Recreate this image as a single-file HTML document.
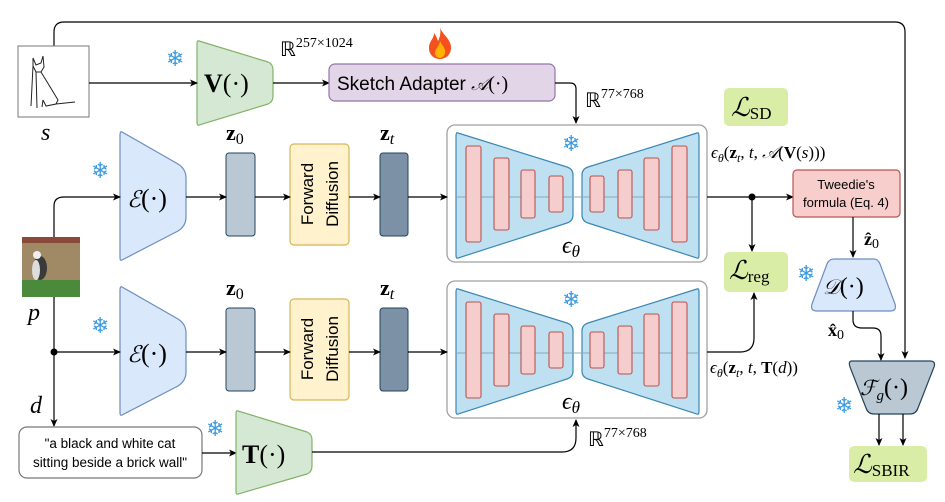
<!DOCTYPE html>
<html><head><meta charset="utf-8"><style>
html,body{margin:0;padding:0;background:#fff;}
svg{display:block;}
.m{font-family:"Liberation Serif",serif;}
.s{font-family:"Liberation Sans",sans-serif;}
</style></head><body>
<svg width="945" height="502" viewBox="0 0 945 502" xmlns="http://www.w3.org/2000/svg">
<defs>
<marker id="a" markerWidth="8" markerHeight="8" refX="7" refY="4" orient="auto" markerUnits="userSpaceOnUse"><path d="M0,0.5 L8,4 L0,7.5 L2,4z" fill="#000"/></marker>
<g id="unet">
<rect x="447" y="0" width="260" height="137" rx="8" fill="#fff" stroke="#a0a0a0" stroke-width="1.3"/>
<path d="M458,8 L567,42 Q573,44 573,50 L573,90 Q573,96 567,98 L458,133 Q456,134 456,130 L456,11 Q456,7 458,8z" fill="#bfe0f1" stroke="#3a88b5" stroke-width="1.2"/>
<path d="M697,8 L588,42 Q582,44 582,50 L582,90 Q582,96 588,98 L697,133 Q699,134 699,130 L699,11 Q699,7 697,8z" fill="#bfe0f1" stroke="#3a88b5" stroke-width="1.2"/>
<line x1="456" y1="72" x2="699" y2="72" stroke="#8aa9b8" stroke-width="1"/>
<g fill="#f5cdcc" stroke="#b85450" stroke-width="1.1">
<rect x="466" y="21" width="15" height="96" rx="2"/>
<rect x="494" y="33" width="15" height="72" rx="2"/>
<rect x="521" y="45" width="14" height="48" rx="2"/>
<rect x="549" y="51" width="14" height="36" rx="2"/>
<rect x="590" y="51" width="14" height="36" rx="2"/>
<rect x="618" y="45" width="14" height="48" rx="2"/>
<rect x="644" y="33" width="15" height="72" rx="2"/>
<rect x="672" y="21" width="15" height="96" rx="2"/>
</g>
<text x="562" y="128" class="m" font-size="24" font-style="italic">ϵ<tspan font-size="17" dy="4">θ</tspan></text>
<text x="562" y="26" font-size="22" fill="#3b9be0" font-family="DejaVu Sans">❄</text>
</g>
<g id="enc">
<path d="M122,0 L178,32 Q186,37 186,46 L186,85 Q186,94 178,99 L122,128 Q120,129 120,126 L120,3 Q120,-1 122,0z" fill="#dae8fc" stroke="#6c8ebf" stroke-width="1.2"/>
<text x="127" y="75" class="m" font-size="26"><tspan font-style="italic" font-family="DejaVu Serif" font-size="23">ℰ</tspan>(·)</text>
<rect x="226" y="21" width="29" height="83" rx="3" fill="#bac8d3" stroke="#23445d" stroke-width="1"/>
<rect x="290" y="12" width="59" height="101" rx="4" fill="#fff2cc" stroke="#d6b656" stroke-width="1.2"/>
<text transform="translate(313,62) rotate(-90)" text-anchor="middle" class="s" font-size="17">Forward</text>
<text transform="translate(338,62) rotate(-90)" text-anchor="middle" class="s" font-size="17">Diffusion</text>
<rect x="380" y="21" width="28" height="83" rx="3" fill="#7d91a6" stroke="#23445d" stroke-width="1"/>
<text x="226" y="8" class="m" font-size="22" font-weight="bold">z<tspan font-weight="normal" font-size="16" dy="4">0</tspan></text>
<text x="380" y="8" class="m" font-size="22" font-weight="bold">z<tspan font-weight="normal" font-style="italic" font-size="16" dy="4">t</tspan></text>
<text x="91" y="46" font-size="22" fill="#3b9be0" font-family="DejaVu Sans">❄</text>
<g stroke="#000" stroke-width="1.2" fill="none" marker-end="url(#a)">
<line x1="186" y1="65" x2="226" y2="65"/>
<line x1="255" y1="65" x2="290" y2="65"/>
<line x1="349" y1="65" x2="380" y2="65"/>
<line x1="408" y1="65" x2="447" y2="65"/>
</g>
</g>
</defs>

<path d="M54,46 L54,32 Q54,22 64,22 L895,22 Q905,22 905,32 L905,358" fill="none" stroke="#000" stroke-width="1.2" marker-end="url(#a)"/>

<rect x="18" y="46" width="71" height="71" fill="#fff" stroke="#777" stroke-width="1"/>
<path d="M33,58 L36,65 L41,63 L43,56 L44,67 L41,72 L36,72 L33,66 Z M33,66 L31,106 M36,72 L37,108 M41,72 L52,90 L58,100 L56,104 L46,106 L43,100 M43,100 L42,107 M56,104 L75,102" fill="none" stroke="#222" stroke-width="1"/>
<text x="41" y="140" class="m" font-size="24" font-style="italic">s</text>

<path d="M199,41 L268,62 Q273,64 273,70 L273,96 Q273,102 268,104 L199,125 Q197,126 197,122 L197,44 Q197,40 199,41z" fill="#d5e8d4" stroke="#82b366" stroke-width="1.2"/>
<text x="204" y="92" class="m" font-size="26"><tspan font-weight="bold">V</tspan>(·)</text>
<text x="166" y="66" font-size="22" fill="#3b9be0" font-family="DejaVu Sans">❄</text>
<line x1="89" y1="83" x2="197" y2="83" stroke="#000" stroke-width="1.2" marker-end="url(#a)"/>
<line x1="273" y1="83" x2="329" y2="83" stroke="#000" stroke-width="1.2" marker-end="url(#a)"/>
<text x="280" y="56" class="m" font-size="20">ℝ<tspan font-size="14" dy="-9">257×1024</tspan></text>

<g transform="translate(428,27)">
<path d="M12,0 C14,8 24,12 23,22 C22,29 17,32 12,32 C6,32 1,28 1,21 C1,14 6,12 6,6 C9,10 9,12 10,14 C12,10 13,6 12,0z" fill="#f4511e"/>
<path d="M12,14 C14,19 18,21 17,26 C16,30 13,31 12,31 C9,31 7,29 7,26 C7,22 11,20 12,14z" fill="#ffb300"/>
</g>

<rect x="329" y="64" width="226" height="37" rx="6" fill="#e1d5e7" stroke="#9673a6" stroke-width="1.2"/>
<text x="337" y="90" class="s" font-size="19">Sketch Adapter <tspan class="m" font-style="italic" font-family="DejaVu Serif" font-size="18">𝒜</tspan><tspan class="m" font-size="20">(·)</tspan></text>
<path d="M555,83 L570,83 Q576,83 576,89 L576,123" fill="none" stroke="#000" stroke-width="1.2" marker-end="url(#a)"/>
<text x="585" y="107" class="m" font-size="20">ℝ<tspan font-size="14" dy="-9">77×768</tspan></text>

<use href="#unet" transform="translate(0,125)"/>
<use href="#unet" transform="translate(0,281)"/>

<use href="#enc" transform="translate(0,132)"/>
<use href="#enc" transform="translate(0,287)"/>

<g>
<rect x="22" y="237" width="58" height="60" fill="#a08a66"/>
<rect x="22" y="237" width="58" height="6" fill="#8a4a3a"/>
<rect x="22" y="280" width="58" height="17" fill="#4a8a3a"/>
<ellipse cx="40" cy="268" rx="7" ry="12" fill="#3a3a3a"/>
<ellipse cx="36" cy="270" rx="4" ry="10" fill="#ddd"/>
<circle cx="37" cy="255" r="4" fill="#eee"/>
</g>
<text x="28" y="320" class="m" font-size="24" font-style="italic">p</text>
<path d="M54,237 L54,206 Q54,197 64,197 L120,197" fill="none" stroke="#000" stroke-width="1.2" marker-end="url(#a)"/>
<line x1="54" y1="297" x2="54" y2="426" stroke="#000" stroke-width="1.2" marker-end="url(#a)"/>
<circle cx="54" cy="352" r="3.5" fill="#000"/>
<line x1="54" y1="352" x2="120" y2="352" stroke="#000" stroke-width="1.2" marker-end="url(#a)"/>
<text x="30" y="413" class="m" font-size="24" font-style="italic">d</text>

<rect x="19" y="427" width="183" height="51" rx="8" fill="#fff" stroke="#777" stroke-width="1.2"/>
<text x="110" y="448" text-anchor="middle" font-family="Liberation Sans" font-size="13.5">"a black and white cat</text>
<text x="110" y="467" text-anchor="middle" font-family="Liberation Sans" font-size="13.5">sitting beside a brick wall"</text>
<line x1="202" y1="453" x2="236" y2="453" stroke="#000" stroke-width="1.2" marker-end="url(#a)"/>

<path d="M238,411 L307,432 Q312,434 312,440 L312,466 Q312,472 307,474 L238,494 Q236,495 236,491 L236,414 Q236,410 238,411z" fill="#d5e8d4" stroke="#82b366" stroke-width="1.2"/>
<text x="242" y="463" class="m" font-size="26"><tspan font-weight="bold">T</tspan>(·)</text>
<text x="206" y="436" font-size="22" fill="#3b9be0" font-family="DejaVu Sans">❄</text>
<path d="M312,452 L562,452 Q576,452 576,438 L576,420" fill="none" stroke="#000" stroke-width="1.2" marker-end="url(#a)"/>
<text x="588" y="446" class="m" font-size="20">ℝ<tspan font-size="14" dy="-9">77×768</tspan></text>

<line x1="707" y1="197" x2="793" y2="197" stroke="#000" stroke-width="1.2" marker-end="url(#a)"/>
<circle cx="752" cy="197" r="3.5" fill="#000"/>
<line x1="752" y1="197" x2="752" y2="251" stroke="#000" stroke-width="1.2" marker-end="url(#a)"/>
<path d="M707,352 L740,352 Q754,352 754,338 L754,293" fill="none" stroke="#000" stroke-width="1.2" marker-end="url(#a)"/>
<text x="711" y="158" class="m" font-size="17"><tspan font-style="italic">ϵ</tspan><tspan font-style="italic" font-size="12" dy="4">θ</tspan><tspan dy="-4">(</tspan><tspan font-weight="bold">z</tspan><tspan font-style="italic" font-size="12" dy="4">t</tspan><tspan dy="-4">, </tspan><tspan font-style="italic">t</tspan>, <tspan font-style="italic">𝒜</tspan>(<tspan font-weight="bold">V</tspan>(<tspan font-style="italic">s</tspan>)))</text>
<text x="710" y="373" class="m" font-size="17"><tspan font-style="italic">ϵ</tspan><tspan font-style="italic" font-size="12" dy="4">θ</tspan><tspan dy="-4">(</tspan><tspan font-weight="bold">z</tspan><tspan font-style="italic" font-size="12" dy="4">t</tspan><tspan dy="-4">, </tspan><tspan font-style="italic">t</tspan>, <tspan font-weight="bold">T</tspan>(<tspan font-style="italic">d</tspan>))</text>

<rect x="724" y="88" width="64" height="38" rx="5" fill="#d9eda6"/>
<text x="731" y="116" class="m" font-size="26" font-style="italic">ℒ<tspan font-style="normal" font-size="17" dy="3">SD</tspan></text>
<rect x="724" y="252" width="64" height="40" rx="5" fill="#d9eda6"/>
<text x="729" y="279" class="m" font-size="26" font-style="italic">ℒ<tspan font-style="normal" font-size="17" dy="3">reg</tspan></text>
<rect x="849" y="446" width="78" height="36" rx="5" fill="#d9eda6"/>
<text x="853" y="473" class="m" font-size="26" font-style="italic">ℒ<tspan font-style="normal" font-size="17" dy="3">SBIR</tspan></text>

<rect x="793" y="170" width="107" height="47" rx="4" fill="#f8cecc" stroke="#b85450" stroke-width="1.2"/>
<text x="846" y="189" text-anchor="middle" class="s" font-size="13">Tweedie's</text>
<text x="846" y="207" text-anchor="middle" class="s" font-size="13">formula (Eq. 4)</text>
<line x1="853" y1="217" x2="853" y2="257" stroke="#000" stroke-width="1.2" marker-end="url(#a)"/>
<text x="864" y="245" class="m" font-size="18" font-weight="bold">ẑ<tspan font-weight="normal" font-size="14" dy="3">0</tspan></text>

<path d="M834,259 L874,259 Q878,259 880,264 L895,304 Q897,311 890,311 L817,311 Q810,311 812,304 L827,264 Q829,259 834,259z" fill="#dae8fc" stroke="#6c8ebf" stroke-width="1.2"/>
<text x="823" y="294" class="m" font-size="24"><tspan font-style="italic" font-family="DejaVu Serif" font-size="21">𝒟</tspan>(·)</text>
<text x="797" y="281" font-size="22" fill="#3b9be0" font-family="DejaVu Sans">❄</text>
<text x="828" y="336" class="m" font-size="18" font-weight="bold">x̂<tspan font-weight="normal" font-size="14" dy="3">0</tspan></text>
<path d="M853,311 L853,320 Q853,328 862,328 L873,328 Q881,328 881,336 L881,360" fill="none" stroke="#000" stroke-width="1.2" marker-end="url(#a)"/>

<path d="M852,361 L930,361 Q936,361 934,367 L918,408 Q916,414 910,414 L874,414 Q868,414 866,408 L850,367 Q848,361 852,361z" fill="#bac8d3" stroke="#23445d" stroke-width="1.2"/>
<text x="860" y="395" class="m" font-size="24"><tspan font-style="italic" font-family="DejaVu Serif" font-size="21">ℱ</tspan><tspan font-style="italic" font-size="15" dy="5">g</tspan><tspan dy="-5">(·)</tspan></text>
<text x="835" y="413" font-size="22" fill="#3b9be0" font-family="DejaVu Sans">❄</text>
<line x1="879" y1="414" x2="879" y2="445" stroke="#000" stroke-width="1.2" marker-end="url(#a)"/>
<line x1="903" y1="414" x2="903" y2="445" stroke="#000" stroke-width="1.2" marker-end="url(#a)"/>
</svg>
</body></html>
